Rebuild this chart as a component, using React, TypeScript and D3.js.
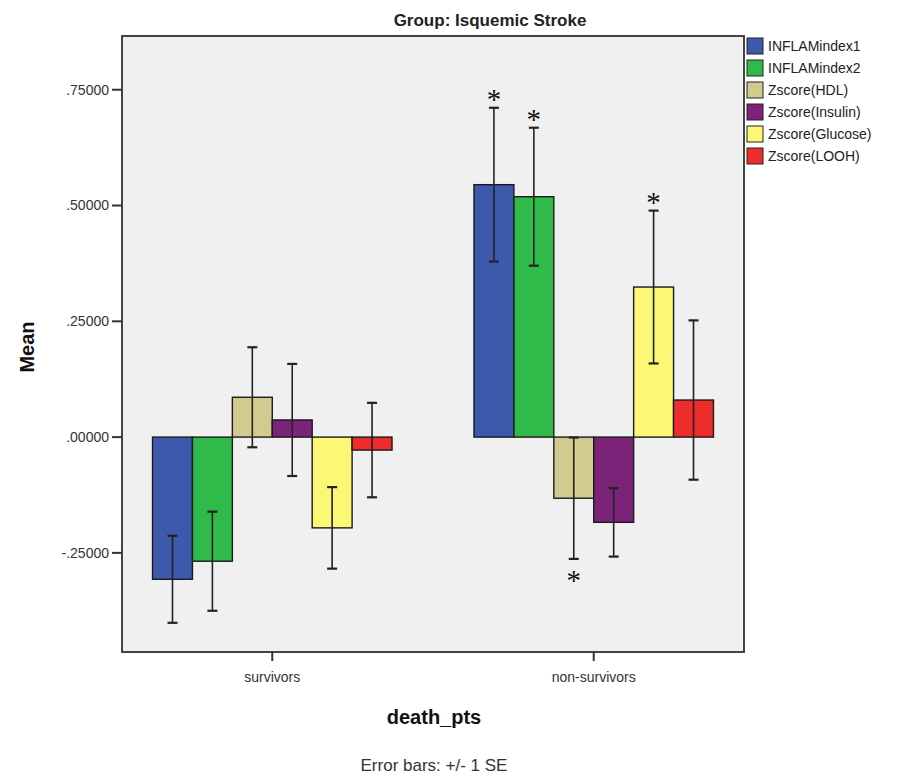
import React from 'react';
import * as d3 from 'd3';

const categories = ['survivors', 'non-survivors'];
const seriesNames = ['INFLAMindex1', 'INFLAMindex2', 'Zscore(HDL)', 'Zscore(Insulin)', 'Zscore(Glucose)', 'Zscore(LOOH)'];
const seriesColors = ['#3d59ab', '#2fba4a', '#d3ca8f', '#7a2379', '#fcf876', '#ee2c2c'];

const meanSurvivors = [-0.307, -0.268, 0.086, 0.037, -0.196, -0.028];
const seSurvivors = [0.094, 0.107, 0.108, 0.121, 0.088, 0.102];
const meanNonSurvivors = [0.545, 0.519, -0.132, -0.184, 0.324, 0.080];
const seNonSurvivors = [0.166, 0.149, 0.131, 0.074, 0.165, 0.172];

// asterisks: [category, series, side]
const stars = [
  ['non-survivors', 'INFLAMindex1', 'up'],
  ['non-survivors', 'INFLAMindex2', 'up'],
  ['non-survivors', 'Zscore(Glucose)', 'up'],
  ['non-survivors', 'Zscore(HDL)', 'down'],
];

const yTicks = [-0.25, 0, 0.25, 0.5, 0.75];

const font = "'Liberation Sans', Arial, sans-serif";

export default function App() {
  const W = 903, H = 776;
  const left = 122, right = 744, top = 36, bottom = 652;

  const means: Record<string, number[]> = { 'survivors': meanSurvivors, 'non-survivors': meanNonSurvivors };
  const ses: Record<string, number[]> = { 'survivors': seSurvivors, 'non-survivors': seNonSurvivors };

  const x0 = d3.scaleBand().domain(categories).range([left, right]).paddingInner(0.255).paddingOuter(0.095);
  const x1 = d3.scaleBand().domain(seriesNames).range([0, x0.bandwidth()]);
  const y = d3.scaleLinear().domain([-0.464, 0.866]).range([bottom, top]);
  // SPSS style: no leading zero, plain hyphen
  const fmt = (v: number) => {
    const s = Math.abs(v).toFixed(5).replace(/^0\./, '.');
    return v < 0 ? '-' + s : s;
  };

  const capW = 10;

  return (
    <svg width={W} height={H} style={{ position: 'absolute', left: 0, top: 0, background: '#fff' }} fontFamily={font}>
      <text x={490} y={26} textAnchor="middle" fontSize={17} fontWeight="bold" fill="#222">Group: Isquemic Stroke</text>

      <rect x={left} y={top} width={right - left} height={bottom - top} fill="#f0f0f0" />

      {categories.map(c => (
        <g key={c} transform={`translate(${x0(c)},0)`}>
          {seriesNames.map((s, i) => {
            const v = means[c][i];
            const y0 = y(0), yv = y(v);
            return (
              <rect key={s} x={x1(s)} y={Math.min(y0, yv)} width={x1.bandwidth()} height={Math.abs(yv - y0)}
                fill={seriesColors[i]} stroke="#1a1a1a" strokeWidth={1.4} />
            );
          })}
          {seriesNames.map((s, i) => {
            const v = means[c][i], e = ses[c][i];
            const cx = (x1(s) as number) + x1.bandwidth() / 2;
            return (
              <g key={s} stroke="#222" strokeWidth={1.6}>
                <line x1={cx} x2={cx} y1={y(v + e)} y2={y(v - e)} />
                <line x1={cx - capW / 2} x2={cx + capW / 2} y1={y(v + e)} y2={y(v + e)} strokeWidth={2.2} />
                <line x1={cx - capW / 2} x2={cx + capW / 2} y1={y(v - e)} y2={y(v - e)} strokeWidth={2.2} />
              </g>
            );
          })}
        </g>
      ))}

      {stars.map(([c, s, side]) => {
        const i = seriesNames.indexOf(s);
        const v = means[c][i], e = ses[c][i];
        const cx = (x0(c) as number) + (x1(s) as number) + x1.bandwidth() / 2;
        const yy = side === 'up' ? y(v + e) - 12 : y(v - e) + 18;
        return (
          <text key={c + s} x={cx} y={yy + 13} textAnchor="middle" fontSize={29} fontFamily="'Liberation Serif', 'Times New Roman', serif" fill="#111">*</text>
        );
      })}

      <rect x={left} y={top} width={right - left} height={bottom - top} fill="none" stroke="#444" strokeWidth={2} />

      {yTicks.map(t => (
        <g key={t}>
          <line x1={left - 10} x2={left} y1={y(t)} y2={y(t)} stroke="#333" strokeWidth={2} />
          <text x={left - 13} y={y(t)} dy="0.35em" textAnchor="end" fontSize={14} fill="#333">{fmt(t)}</text>
        </g>
      ))}

      {categories.map(c => {
        const cx = (x0(c) as number) + x0.bandwidth() / 2;
        return (
          <g key={c}>
            <line x1={cx} x2={cx} y1={bottom} y2={bottom + 9} stroke="#333" strokeWidth={2} />
            <text x={cx} y={682} textAnchor="middle" fontSize={14} fill="#333">{c}</text>
          </g>
        );
      })}

      <text x={0} y={0} transform={`translate(34,347) rotate(-90)`} textAnchor="middle" fontSize={20} fontWeight="bold" fill="#111">Mean</text>
      <text x={434} y={724} textAnchor="middle" fontSize={20} fontWeight="bold" fill="#111">death_pts</text>
      <text x={434} y={771} textAnchor="middle" fontSize={17} fill="#333">Error bars: +/- 1 SE</text>

      {seriesNames.map((s, i) => (
        <g key={s} transform={`translate(747,${46 + 22 * i})`}>
          <rect x={0} y={-8} width={16} height={16} fill={seriesColors[i]} stroke="#222" strokeWidth={1} />
          <text x={21} y={0} dy="0.35em" fontSize={14} fill="#222">{s}</text>
        </g>
      ))}
    </svg>
  );
}
